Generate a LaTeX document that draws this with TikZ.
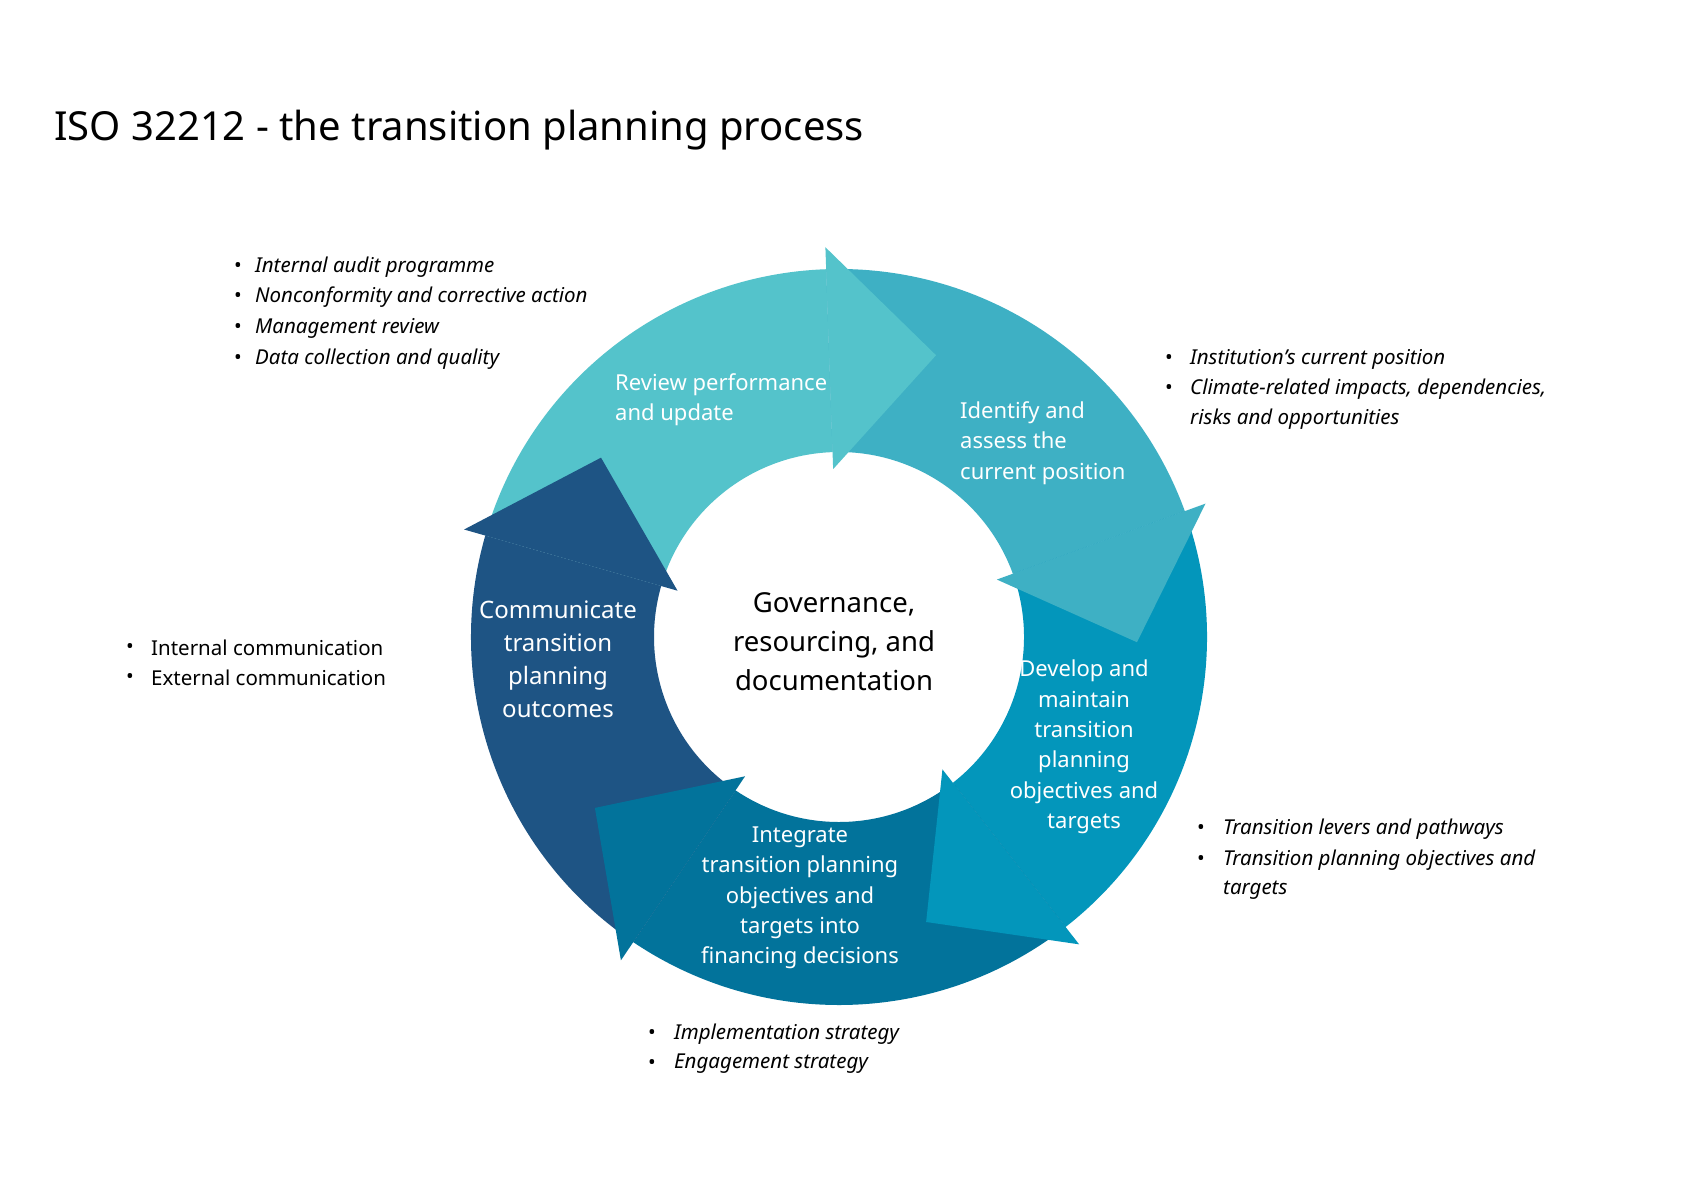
\documentclass[tikz,border=0pt]{standalone}
\usepackage{fontspec}
\setmainfont{Noto Sans}
\definecolor{cRev}{HTML}{54C3CB}
\definecolor{cIde}{HTML}{3EB0C4}
\definecolor{cDev}{HTML}{0396BB}
\definecolor{cInt}{HTML}{02739B}
\definecolor{cCom}{HTML}{1E5484}
\begin{document}
\begin{tikzpicture}[x=1pt,y=-1pt,
  seg/.style={inner sep=0pt,text=white,font=\fontsize{22}{30.3}\selectfont},
  li/.style={inner sep=0pt,anchor=west,font=\fontsize{20.5}{30}\selectfont\itshape},
  lu/.style={inner sep=0pt,anchor=west,font=\fontsize{20.5}{30}\selectfont},
  bu/.style={inner sep=0pt,font=\fontsize{20.5}{30}\selectfont}]
\useasboundingbox[fill=white] (0,0) rectangle (1685,1191);
\begin{scope}[shift={(839,637)},y=1pt]
\def\ri{185}\def\ro{368}
\foreach \a/\b/\c in {164/92/cRev,92/20/cIde,20/-52/cDev,-52/-124/cInt,-124/-196/cCom}{
  \fill[\c] (\a:\ri) arc[start angle=\a,end angle=\b,radius=\ri] -- (\b:\ro) arc[start angle=\b,end angle=\a,radius=\ro] -- cycle;}
\foreach \b/\c in {92/cRev,20/cIde,-52/cDev,-124/cInt,-196/cCom}{
  \fill[\c] (\b:168) -- (\b:390) -- (\b-21:298) -- cycle;}
\end{scope}
\node[inner sep=0pt,anchor=west,font=\fontsize{40}{48}\selectfont\bfseries] (title) at (54,130) {ISO 32212 - the transition planning process};
\node[seg,anchor=west,align=left] (rev) at (615,400) {Review performance\\and update};
\node[seg,anchor=west,align=left] (ide) at (960,443) {Identify and\\assess the\\current position};
\node[seg,align=center] (dev) at (1084,747) {Develop and\\maintain\\transition\\planning\\objectives and\\targets};
\node[seg,align=center] (int) at (800,898) {Integrate\\transition planning\\objectives and\\targets into\\financing decisions};
\node[seg,align=center,font=\fontsize{24}{33}\selectfont] (com) at (558,659) {Communicate\\transition\\planning\\outcomes};
\node[inner sep=0pt,align=center,font=\fontsize{27.5}{39}\selectfont\bfseries] (gov) at (834,642) {Governance,\\resourcing, and\\documentation};
% top left
\foreach \y/\t [count=\i] in {267/Internal audit programme,297/Nonconformity and corrective action,328/Management review,359/Data collection and quality}{
  \node[bu] (tlb\i) at (238,\y) {•}; \node[li] (tl\i) at (255,\y) {\t};}
% top right
\node[bu] (trb1) at (1169,359) {•}; \node[li] (tr1) at (1190,359) {Institution’s current position};
\node[bu] (trb2) at (1169,389) {•}; \node[li] (tr2) at (1190,389) {Climate-related impacts, dependencies,};
\node[li] (tr3) at (1190,419) {risks and opportunities};
% left
\node[bu] (lb1) at (130,648) {•}; \node[lu] (l1) at (151,648) {Internal communication};
\node[bu] (lb2) at (130,678) {•}; \node[lu] (l2) at (151,678) {External communication};
% right
\node[bu] (rb1) at (1201,829) {•}; \node[li] (r1) at (1223,829) {Transition levers and pathways};
\node[bu] (rb2) at (1201,860) {•}; \node[li] (r2) at (1223,860) {Transition planning objectives and};
\node[li] (r3) at (1223,890) {targets};
% bottom
\node[bu] (bb1) at (652,1034) {•}; \node[li] (b1) at (674,1034) {Implementation strategy};
\node[bu] (bb2) at (652,1064) {•}; \node[li] (b2) at (674,1064) {Engagement strategy};
\end{tikzpicture}
\end{document}
